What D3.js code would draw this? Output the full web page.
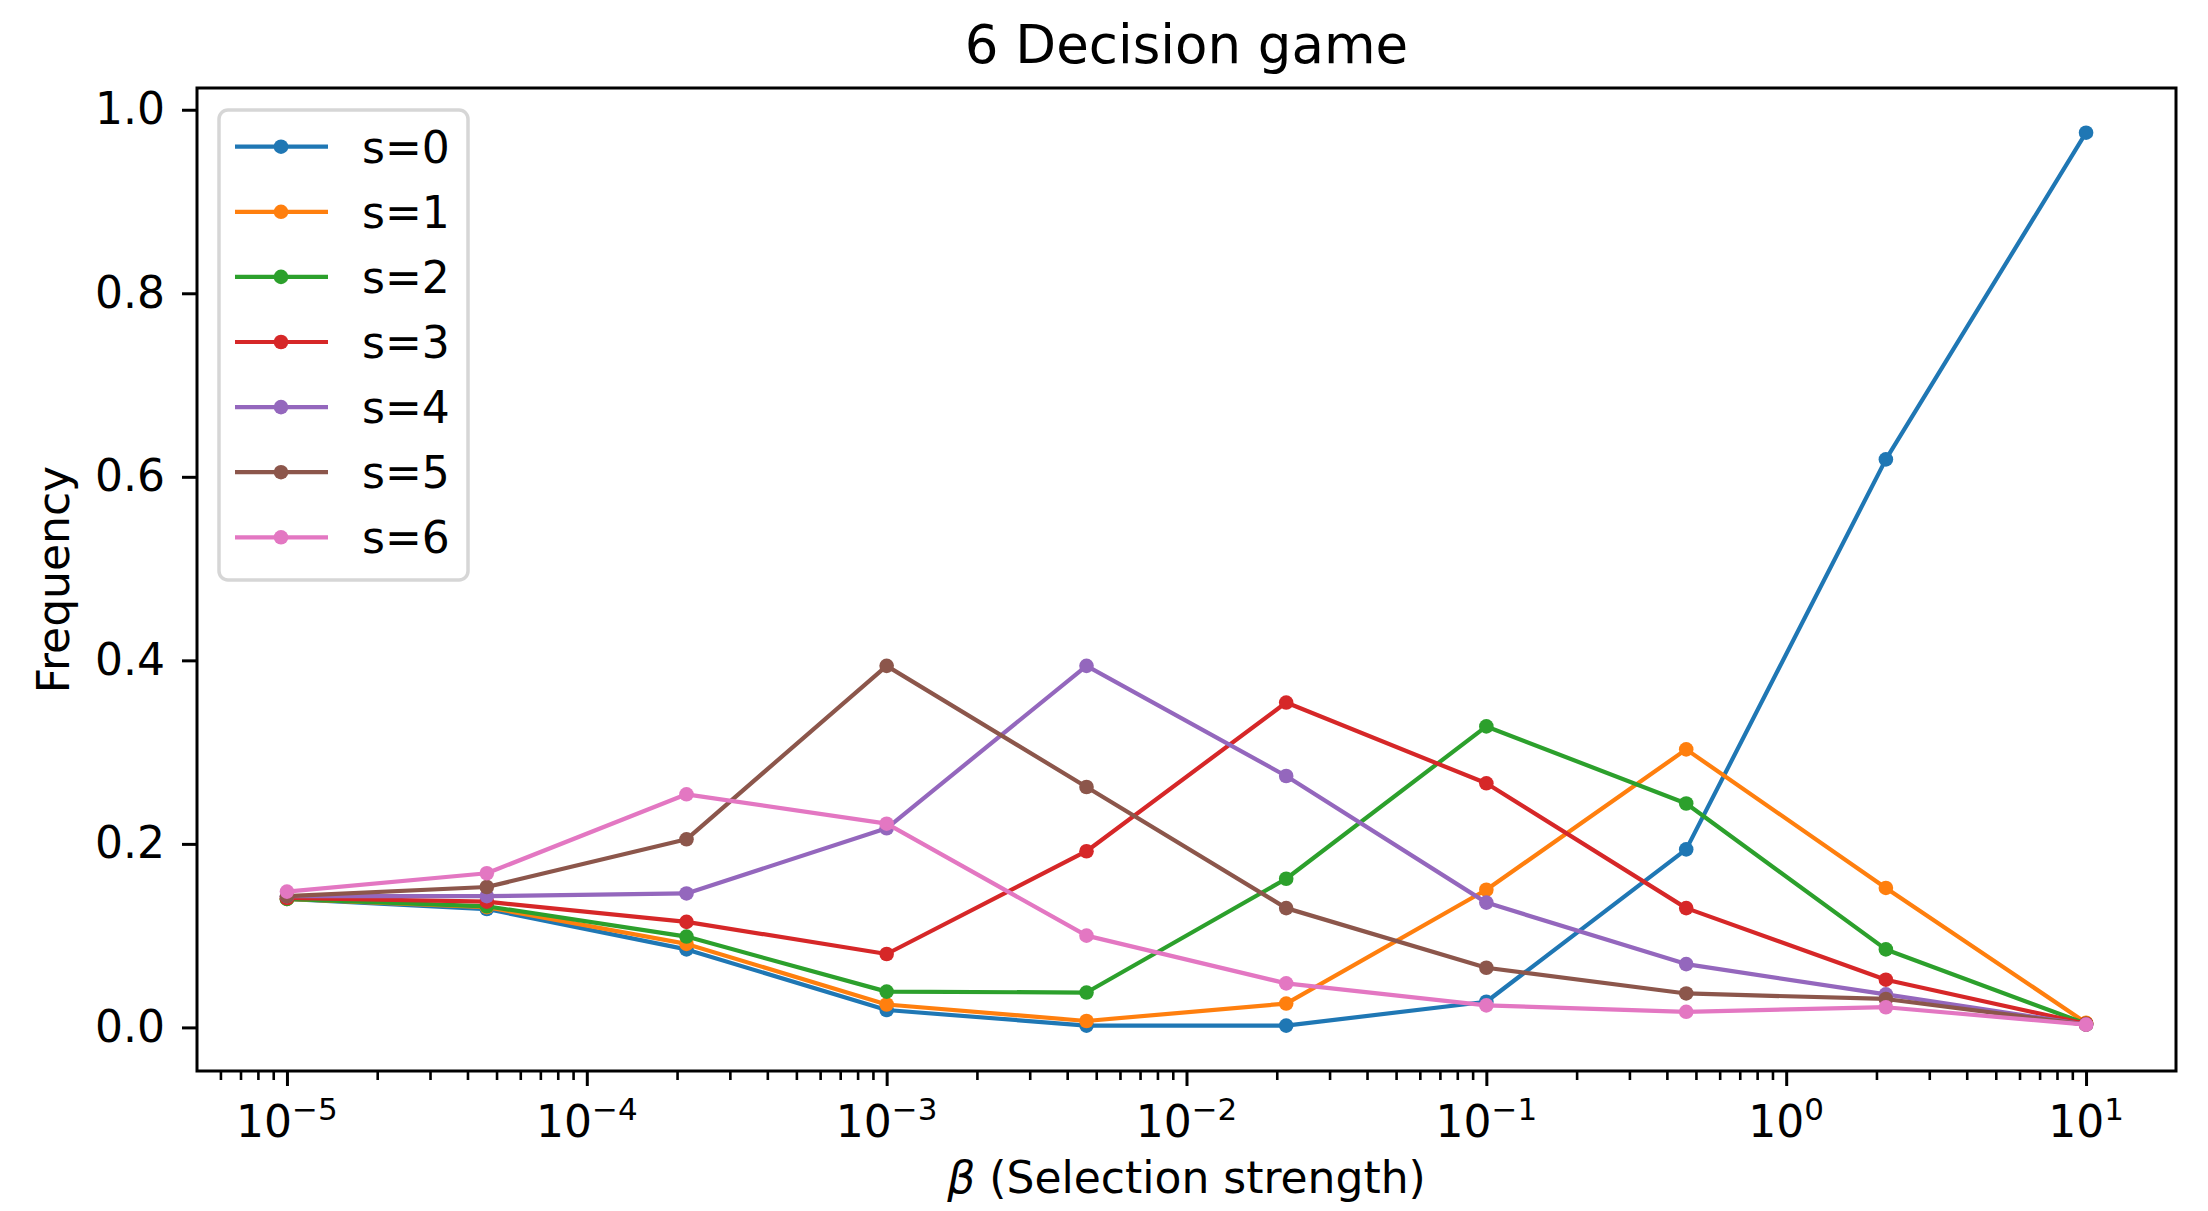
<!DOCTYPE html>
<html>
<head>
<meta charset="utf-8">
<script src="https://cdn.jsdelivr.net/npm/d3@7"></script>
<style>
  html, body { margin: 0; padding: 0; background: #fff; }
  svg { display: block; }
  text { font-family: "DejaVu Sans", sans-serif; fill: #000; }
</style>
</head>
<body>
<svg id="chart" width="2208" height="1211"></svg>
<script>
// beta values (log spaced)
var betas = [1e-5, 4.64e-5, 2.15e-4, 1e-3, 4.64e-3, 2.15e-2, 0.1, 0.464, 2.15, 10];

var labels = ["s=0", "s=1", "s=2", "s=3", "s=4", "s=5", "s=6"];
var colors = ["#1f77b4", "#ff7f0e", "#2ca02c", "#d62728", "#9467bd", "#8c564b", "#e377c2"];

var s0 = [0.140, 0.129, 0.085, 0.019, 0.002, 0.002, 0.028, 0.194, 0.619, 0.975];
var s1 = [0.140, 0.131, 0.091, 0.025, 0.007, 0.026, 0.150, 0.303, 0.152, 0.005];
var s2 = [0.140, 0.132, 0.099, 0.039, 0.038, 0.162, 0.328, 0.244, 0.085, 0.004];
var s3 = [0.141, 0.137, 0.115, 0.080, 0.192, 0.354, 0.266, 0.130, 0.052, 0.004];
var s4 = [0.143, 0.143, 0.146, 0.217, 0.394, 0.274, 0.136, 0.069, 0.036, 0.003];
var s5 = [0.143, 0.153, 0.205, 0.394, 0.262, 0.130, 0.065, 0.037, 0.031, 0.003];
var s6 = [0.148, 0.168, 0.254, 0.222, 0.100, 0.048, 0.024, 0.017, 0.022, 0.003];
var series = [s0, s1, s2, s3, s4, s5, s6];

var xMajor = [1e-5, 1e-4, 1e-3, 1e-2, 1e-1, 1, 10];
var xExp = ["\u22125", "\u22124", "\u22123", "\u22122", "\u22121", "0", "1"];
var yTicks = [0, 0.2, 0.4, 0.6, 0.8, 1.0];

var svg = d3.select("#chart"),
    plotL = 197, plotR = 2176, plotT = 88, plotB = 1071;

svg.append("rect").attr("width", 2208).attr("height", 1211).attr("fill", "#fff");

var x = d3.scaleLog()
    .domain([Math.pow(10, -5.3), Math.pow(10, 1.3)])
    .range([plotL, plotR]);
var y = d3.scaleLinear()
    .domain([-0.0475, 1.0237])
    .range([plotB, plotT]);

// minor ticks 2..9 x decade, only inside the domain
var xMinor = [];
for (var e = -6; e <= 1; e++) {
  for (var k = 2; k <= 9; k++) {
    var v = k * Math.pow(10, e);
    if (v > x.domain()[0] * 1.01 && v < x.domain()[1] * 0.99) xMinor.push(v);
  }
}

// x axis ticks
var gx = svg.append("g").attr("transform", "translate(0," + plotB + ")");
gx.call(d3.axisBottom(x).tickValues(xMinor).tickSize(9).tickFormat(""));
gx.selectAll("line").attr("stroke", "#000").attr("stroke-width", 2.6);
gx.select(".domain").remove();
var gx2 = svg.append("g").attr("transform", "translate(0," + plotB + ")");
gx2.call(d3.axisBottom(x).tickValues(xMajor).tickSize(15).tickFormat(""));
gx2.selectAll("line").attr("stroke", "#000").attr("stroke-width", 3);
gx2.select(".domain").remove();

xMajor.forEach(function(v, i) {
  var t = svg.append("text")
      .attr("x", x(v))
      .attr("y", 1137)
      .attr("text-anchor", "middle")
      .style("font-size", "44px");
  t.append("tspan").text("10");
  t.append("tspan").attr("dy", -17).style("font-size", "31px").text(xExp[i]);
});

// y axis ticks
var gy = svg.append("g").attr("transform", "translate(" + plotL + ",0)");
gy.call(d3.axisLeft(y).tickValues(yTicks).tickSize(15).tickPadding(17).tickFormat(d3.format(".1f")));
gy.select(".domain").remove();
gy.selectAll("line").attr("stroke", "#000").attr("stroke-width", 3);
gy.selectAll("text")
    .style("font-size", "44px")
    .style("font-family", "DejaVu Sans, sans-serif")
    .attr("fill", "#000");

// lines and markers
var line = d3.line()
    .x(function(d, i) { return x(betas[i]); })
    .y(function(d) { return y(d); });

series.forEach(function(vals, si) {
  var g = svg.append("g");
  g.append("path")
      .attr("d", line(vals))
      .attr("fill", "none")
      .attr("stroke", colors[si])
      .attr("stroke-width", 4.2)
      .attr("stroke-linejoin", "round")
      .attr("stroke-linecap", "butt");
  g.selectAll("circle")
    .data(vals)
    .enter().append("circle")
      .attr("cx", function(d, i) { return x(betas[i]); })
      .attr("cy", function(d) { return y(d); })
      .attr("r", 7.3)
      .attr("fill", colors[si]);
});

// spines
svg.append("rect")
    .attr("x", plotL).attr("y", plotT)
    .attr("width", plotR - plotL).attr("height", plotB - plotT)
    .attr("fill", "none")
    .attr("stroke", "#000")
    .attr("stroke-width", 3);

// legend
var legend = svg.append("g");
legend.append("rect")
    .attr("x", 219).attr("y", 110)
    .attr("width", 249).attr("height", 470)
    .attr("rx", 9).attr("ry", 9)
    .attr("fill", "#fff").attr("fill-opacity", 0.8)
    .attr("stroke", "#d6d6d6")
    .attr("stroke-width", 3.5);

labels.forEach(function(lab, i) {
  var cy = 146.7 + i * 65.1;
  legend.append("line")
      .attr("x1", 235).attr("x2", 328)
      .attr("y1", cy).attr("y2", cy)
      .attr("stroke", colors[i]).attr("stroke-width", 4.2);
  legend.append("circle")
      .attr("cx", 281).attr("cy", cy).attr("r", 7.3)
      .attr("fill", colors[i]);
  legend.append("text")
      .attr("x", 362)
      .attr("y", cy + 16)
      .style("font-size", "44px")
      .text(lab);
});

// title and axis labels
svg.append("text")
    .attr("x", (plotL + plotR) / 2)
    .attr("y", 63)
    .attr("text-anchor", "middle")
    .style("font-size", "53px")
    .text("6 Decision game");

var xl = svg.append("text")
    .attr("x", (plotL + plotR) / 2)
    .attr("y", 1193)
    .attr("text-anchor", "middle")
    .style("font-size", "44px");
xl.append("tspan").style("font-style", "italic").text("\u03b2");
xl.append("tspan").text(" (Selection strength)");

svg.append("text")
    .attr("transform", "translate(69," + ((plotT + plotB) / 2) + ") rotate(-90)")
    .attr("text-anchor", "middle")
    .style("font-size", "44px")
    .text("Frequency");
</script>
</body>
</html>
